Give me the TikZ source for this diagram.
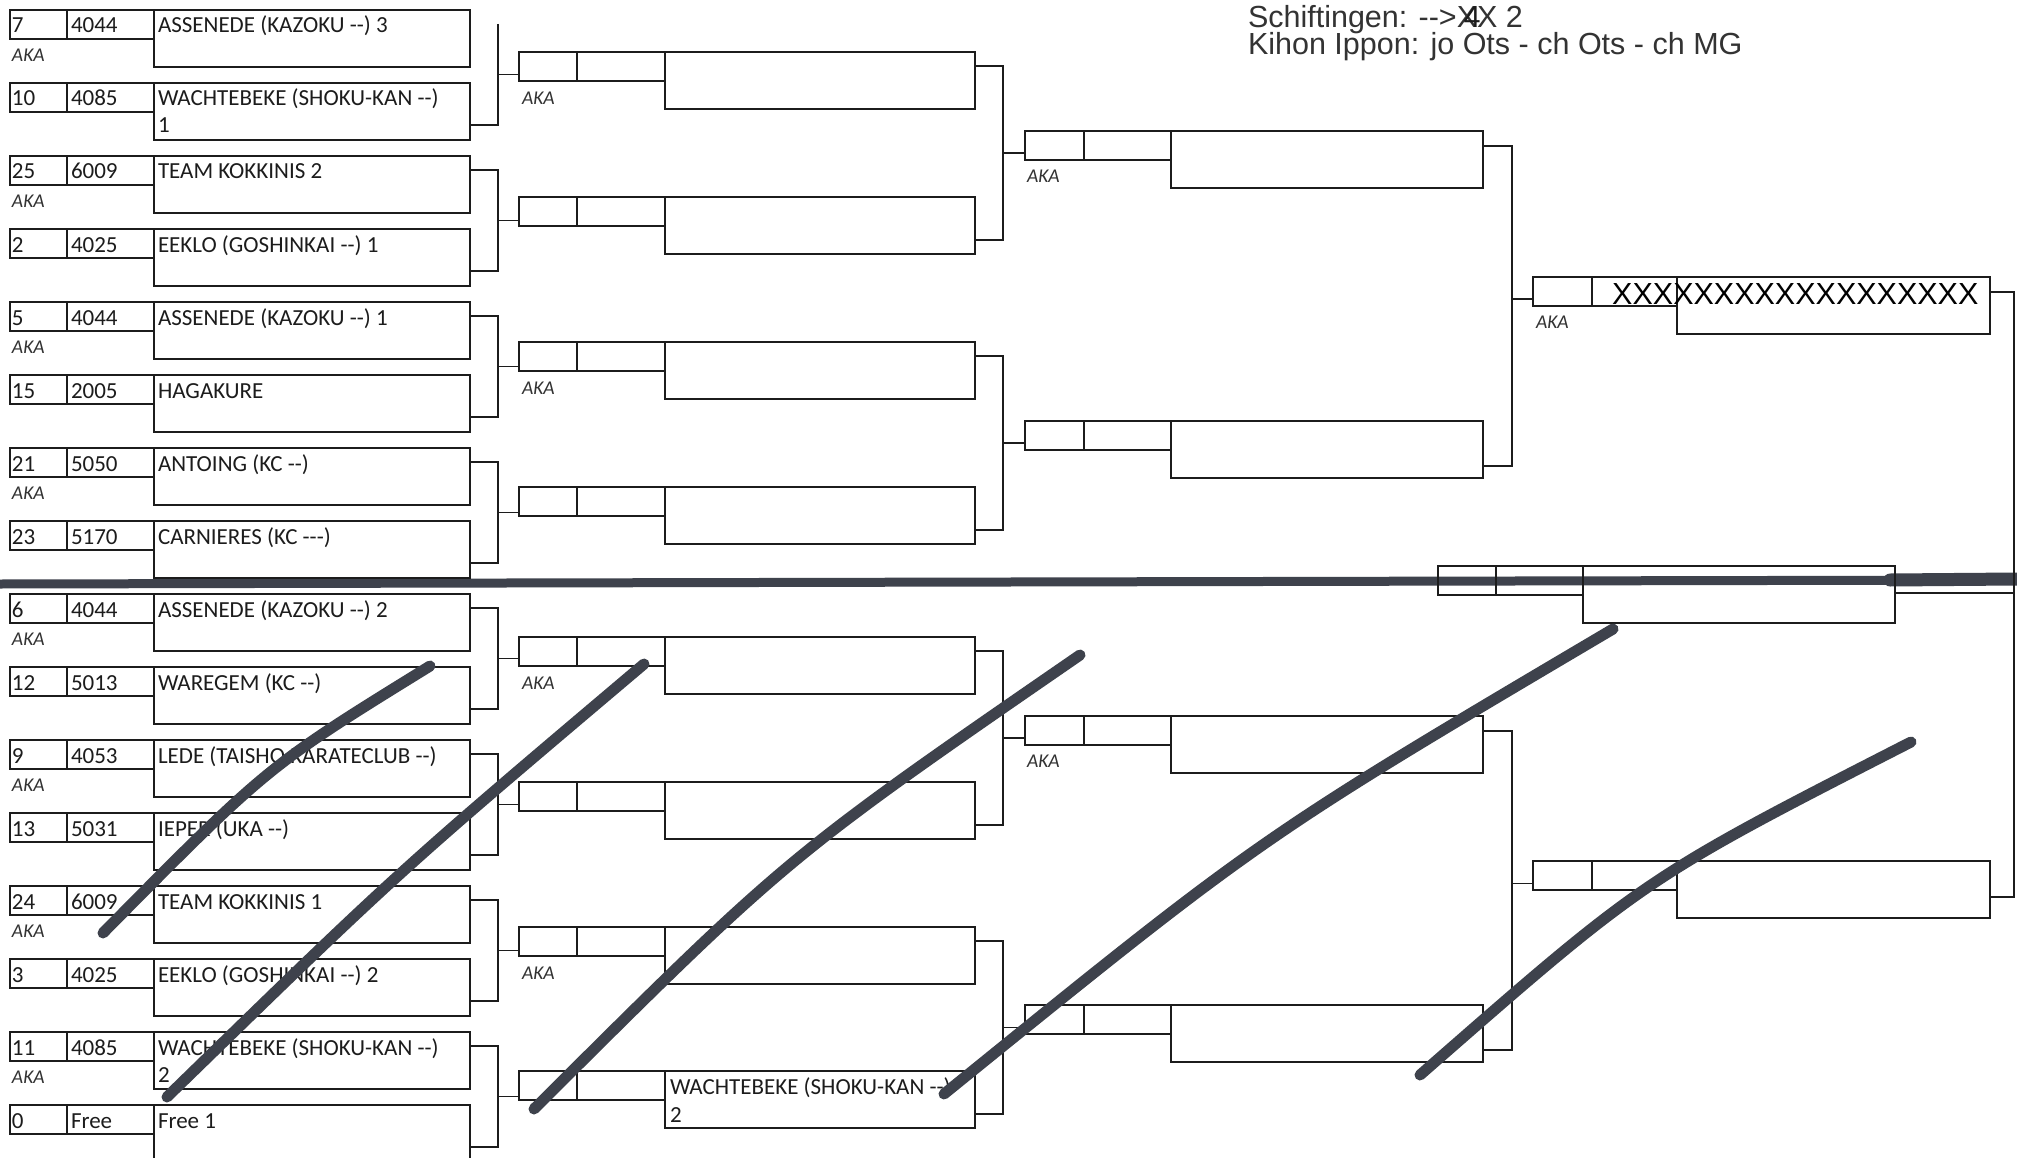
\documentclass[tikz,border=0pt]{standalone}
\usepackage{fontspec}
\setmainfont{Carlito}
\newfontfamily\arialf{Liberation Sans}
\usetikzlibrary{calc}
\definecolor{ink}{RGB}{28,28,28}
\definecolor{felttip}{RGB}{62,66,76}
\newcommand\dd{-\kern0pt-}
\newcommand\ddd{-\kern0pt-\kern0pt-}
\tikzset{
 bx/.style={draw=ink, anchor=north west, inner sep=0pt, outer sep=0pt},
 sbox/.style={bx, minimum height=29pt},
 nbox/.style={bx, minimum height=57pt},
 txt/.style={anchor=base west, inner sep=0pt, outer sep=0pt, text=ink, font=\fontsize{23}{27}\selectfont},
 aka/.style={anchor=west, inner sep=0pt, outer sep=0pt, text=ink!90, font=\fontsize{19.5}{21}\selectfont\itshape},
 wire/.style={draw=ink, line width=1.9pt},
 felt/.style={draw=felttip, line width=11pt, line cap=round, line join=round},
 title/.style={anchor=base west, inner sep=0pt, outer sep=0pt, text=ink!90, font=\arialf\fontsize{30.5}{33}\selectfont},
}
% three-cell match box: prefix, x1, x2, x3, x4, top, line width
\newcommand\rbox[7]{%
 \node[sbox, line width=#7pt, minimum width={#3pt-#2pt}] (#1a) at (#2,#6) {};
 \node[sbox, line width=#7pt, minimum width={#4pt-#3pt}] (#1b) at (#3,#6) {};
 \node[nbox, line width=#7pt, minimum width={#5pt-#4pt}] (#1c) at (#4,#6) {};
}
% first round entry: index, top, number, code, name
\newcommand\rone[5]{%
 \rbox{e#1}{10}{67}{154}{470}{#2}{2.6}
 \node[txt] (e#1num) at ([xshift=2pt,yshift=-23pt]e#1a.north west) {#3};
 \node[txt] (e#1id) at ([xshift=4pt,yshift=-23pt]e#1b.north west) {#4};
 \node[txt] (e#1nm) at ([xshift=4pt,yshift=-23pt]e#1c.north west) {#5};
}
% bracket: upper node, offset, lower node, offset, x of vertical, target node, fraction
\newcommand\brk[7]{%
 \coordinate (bu) at ([yshift=-#2pt]#1.north east);
 \coordinate (bl) at ([yshift=-#4pt]#3.north east);
 \coordinate (vx) at (#5,0);
 \coordinate (bm) at ($(bu)!#7!(bl)$);
 \draw[wire] (bu) -- (bu -| vx) -- (bl -| vx) -- (bl);
 \draw[wire] (bm -| vx) -- (bm -| #6.west);
}
\begin{document}
\begin{tikzpicture}[x=1pt,y=-1pt]
\useasboundingbox (0,0) rectangle (2017,1158);
\fill[white] (0,0) rectangle (2017,1158);

% thick felt line across the sheet
\draw[felt, line width=9pt, line cap=butt] (0,584) -- (2017,580);
\draw[felt, line width=13pt] (1890,580) -- (2017,579);

% ---------- round 1 ----------
\rone{0}{10}{7}{4044}{ASSENEDE (KAZOKU \dd) 3}
\rone{1}{83}{10}{4085}{WACHTEBEKE (SHOKU-KAN \dd)}
\node[txt] (e1nm2) at ([xshift=4pt,yshift=-50pt]e1c.north west) {1};
\rone{2}{156}{25}{6009}{TEAM KOKKINIS 2}
\rone{3}{229}{2}{4025}{EEKLO (GOSHINKAI \dd) 1}
\rone{4}{302}{5}{4044}{ASSENEDE (KAZOKU \dd) 1}
\rone{5}{375}{15}{2005}{HAGAKURE}
\rone{6}{448}{21}{5050}{ANTOING (KC \dd)}
\rone{7}{521}{23}{5170}{CARNIERES (KC \ddd)}
\rone{8}{594}{6}{4044}{ASSENEDE (KAZOKU \dd) 2}
\rone{9}{667}{12}{5013}{WAREGEM (KC \dd)}
\rone{10}{740}{9}{4053}{LEDE (TAISHO KARATECLUB \dd)}
\rone{11}{813}{13}{5031}{IEPER (UKA \dd)}
\rone{12}{886}{24}{6009}{TEAM KOKKINIS 1}
\rone{13}{959}{3}{4025}{EEKLO (GOSHINKAI \dd) 2}
\rone{14}{1032}{11}{4085}{WACHTEBEKE (SHOKU-KAN \dd)}
\node[txt] (e14nm2) at ([xshift=4pt,yshift=-50pt]e14c.north west) {2};
\rone{15}{1105}{0}{Free}{Free 1}

\foreach \k in {0,2,...,14}{
 \node[aka] (ka\k) at ([xshift=2pt,yshift=-45pt]e\k a.north west) {AKA};
}

% ---------- round 2 ----------
\rbox{s0}{519}{577}{665}{975}{52}{2.2}
\rbox{s1}{519}{577}{665}{975}{197}{2.2}
\rbox{s2}{519}{577}{665}{975}{342}{2.2}
\rbox{s3}{519}{577}{665}{975}{487}{2.2}
\rbox{s4}{519}{577}{665}{975}{637}{2.2}
\rbox{s5}{519}{577}{665}{975}{782}{2.2}
\rbox{s6}{519}{577}{665}{975}{927}{2.2}
\rbox{s7}{519}{577}{665}{975}{1071}{2.2}
\node[txt] (s7nm) at ([xshift=5pt,yshift=-23pt]s7c.north west) {WACHTEBEKE (SHOKU-KAN \dd)};
\node[txt] (s7nm2) at ([xshift=5pt,yshift=-51pt]s7c.north west) {2};
\foreach \q in {0,2,4,6}{
 \node[aka] (kb\q) at ([xshift=3pt,yshift=-46pt]s\q a.north west) {AKA};
}

% ---------- round 3 ----------
\rbox{t0}{1025}{1084}{1171}{1483}{131}{2.1}
\rbox{t1}{1025}{1084}{1171}{1483}{421}{2.1}
\rbox{t2}{1025}{1084}{1171}{1483}{716}{2.1}
\rbox{t3}{1025}{1084}{1171}{1483}{1005}{2.1}
\node[aka] (kc0) at ([xshift=2pt,yshift=-45pt]t0a.north west) {AKA};
\node[aka] (kc2) at ([xshift=2pt,yshift=-45pt]t2a.north west) {AKA};

% ---------- semi-finals ----------
\rbox{f0}{1533}{1592}{1677}{1990}{277}{2.1}
\rbox{f1}{1533}{1592}{1677}{1990}{861}{2.1}
\node[aka] (kd0) at ([xshift=3pt,yshift=-45pt]f0a.north west) {AKA};

% ---------- third place ----------
\rbox{p}{1438}{1496}{1583}{1895}{566}{2.1}

% ---------- brackets ----------
% pair 0 (no upper stub in the scan)
\coordinate (bu) at ([yshift=-14pt]e0c.north east);
\coordinate (bl) at ([yshift=-42pt]e1c.north east);
\coordinate (vx) at (498,0);
\coordinate (bm) at ($(bu)!0.5!(bl)$);
\draw[wire] (bu -| vx) -- (bl -| vx) -- (bl);
\draw[wire] (bm -| vx) -- (bm -| s0a.west);
\brk{e2c}{14}{e3c}{42}{498}{s1a}{0.5}
\brk{e4c}{14}{e5c}{42}{498}{s2a}{0.5}
\brk{e6c}{14}{e7c}{42}{498}{s3a}{0.5}
\brk{e8c}{14}{e9c}{42}{498}{s4a}{0.5}
\brk{e10c}{14}{e11c}{42}{498}{s5a}{0.5}
\brk{e12c}{14}{e13c}{42}{498}{s6a}{0.5}
\brk{e14c}{14}{e15c}{42}{498}{s7a}{0.5}

\brk{s0c}{14}{s1c}{43}{1003}{t0a}{0.5}
\brk{s2c}{14}{s3c}{43}{1003}{t1a}{0.5}
\brk{s4c}{14}{s5c}{43}{1003}{t2a}{0.5}
\brk{s6c}{14}{s7c}{43}{1003}{t3a}{0.5}

\brk{t0c}{15}{t1c}{45}{1512}{f0a}{0.478}
\brk{t2c}{15}{t3c}{45}{1512}{f1a}{0.478}

% final bracket along the right edge
\coordinate (fu) at ([yshift=-15pt]f0c.north east);
\coordinate (fl) at ([yshift=-36pt]f1c.north east);
\coordinate (fx) at (2014,0);
\draw[wire] (fu) -- (fu -| fx) -- (fl -| fx) -- (fl);
\coordinate (pu) at ([yshift=-27pt]pc.north east);
\draw[wire] (pu) -- (pu -| fx);

% ---------- header text ----------
\node[title] (t1line) at (1248,28) {Schiftingen: \dd>XX 2};
\node[anchor=base, inner sep=0pt, text=ink, font=\arialf\fontsize{30.5}{33}\selectfont] (t1four) at (1472,28) {4};
\node[title] (t2line) at (1248,55) {Kihon Ippon: jo Ots - ch Ots - ch MG};
\node[anchor=base west, inner sep=0pt, text=black, font=\arialf\fontsize{30.5}{33}\selectfont] (xline) at (1612,304) {XXXXXXXXXXXXXXXXXX};

% ---------- felt-tip strokes ----------
\draw[felt] (430,666) .. controls (268,766) .. (103,933);
\draw[felt] (644,664) .. controls (398,872) .. (167,1097);
\draw[felt] (1080,655) .. controls (787,857) .. (534,1109);
\draw[felt] (1613,629) .. controls (1261,837) .. (944,1094);
\draw[felt] (1911,742) .. controls (1645,878) .. (1420,1075);
\end{tikzpicture}
\end{document}
